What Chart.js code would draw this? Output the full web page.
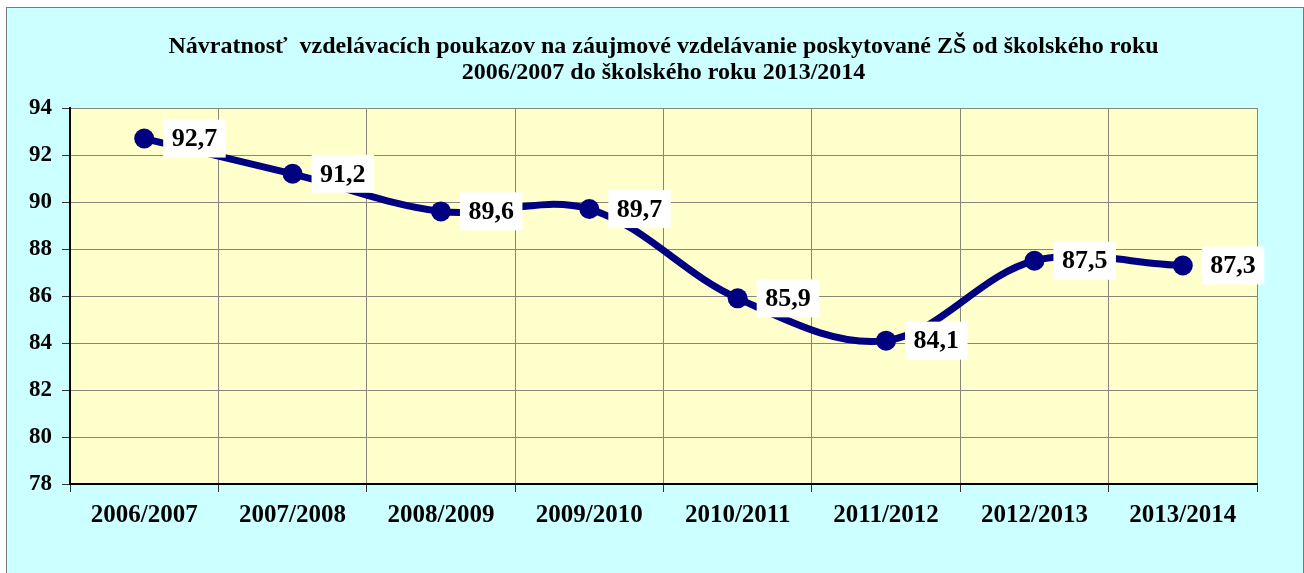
<!DOCTYPE html>
<html>
<head>
<meta charset="utf-8">
<script src="https://cdn.jsdelivr.net/npm/chart.js@4"></script>
<style>
  html, body { margin: 0; padding: 0; background: #fff; }
  #box {
    position: absolute; left: 6px; top: 7px;
    width: 1296px; height: 565px;
    border: 1px solid #7a7a7a; background: #ccffff;
  }
  canvas { display: block; }
</style>
</head>
<body>
<div id="box"><canvas id="chart" width="1296" height="565"></canvas></div>
<script>
const titleLines = [
  "Návratnosť  vzdelávacích poukazov na záujmové vzdelávanie poskytované ZŠ od školského roku",
  "2006/2007 do školského roku 2013/2014"
];
const years = ["2006/2007", "2007/2008", "2008/2009", "2009/2010", "2010/2011", "2011/2012", "2012/2013", "2013/2014"];
const returnRate = [92.7, 91.2, 89.6, 89.7, 85.9, 84.1, 87.5, 87.3];
const yMin = 78, yMax = 94, yStep = 2;

const serif = "'Liberation Serif', 'Times New Roman', serif";

const plotBg = {
  id: "plotBg",
  beforeDraw(chart) {
    const { ctx, chartArea: a } = chart;
    ctx.save();
    ctx.fillStyle = "#ffffcc";
    ctx.fillRect(a.left, a.top, a.right - a.left, a.bottom - a.top);
    ctx.restore();
  },
  afterDraw(chart) {
    const { ctx, chartArea: a } = chart;
    ctx.save();
    ctx.fillStyle = "#000";
    ctx.font = "bold 24px " + serif;
    ctx.textAlign = "center";
    ctx.textBaseline = "middle";
    const cx = (a.left + a.right) / 2;
    ctx.fillText(titleLines[0], cx, 39);
    ctx.fillText(titleLines[1], cx, 65);
    ctx.restore();
  }
};

const valueLabels = {
  id: "valueLabels",
  afterDatasetsDraw(chart) {
    const { ctx } = chart;
    const meta = chart.getDatasetMeta(0);
    ctx.save();
    ctx.font = "bold 26px " + serif;
    ctx.textBaseline = "middle";
    meta.data.forEach((pt, i) => {
      const txt = returnRate[i].toFixed(1).replace(".", ",");
      const w = ctx.measureText(txt).width + 17;
      const h = 38;
      const x = pt.x + 19, y = pt.y - h / 2;
      ctx.fillStyle = "#fff";
      ctx.fillRect(x, y, w, h);
      ctx.fillStyle = "#000";
      ctx.fillText(txt, x + 8.5, pt.y + 1);
    });
    ctx.restore();
  }
};

new Chart(document.getElementById("chart"), {
  type: "line",
  data: {
    labels: years,
    datasets: [{
      data: returnRate,
      borderColor: "#000080",
      backgroundColor: "#000080",
      borderWidth: 7,
      tension: 0.35,
      pointRadius: 10,
      pointHoverRadius: 10,
      pointBackgroundColor: "#000080",
      pointBorderWidth: 0
    }]
  },
  options: {
    responsive: false,
    animation: false,
    layout: { padding: { top: 100, right: 46, left: 0, bottom: 0 } },
    plugins: { legend: { display: false }, title: { display: false }, tooltip: { enabled: false } },
    scales: {
      x: {
        offset: true,
        grid: { offset: true, color: "#86867c", lineWidth: 1, tickLength: 8, tickColor: "#333" },
        border: { color: "#000", width: 2 },
        ticks: { color: "#000", font: { family: serif, size: 25, weight: "bold" }, padding: 9, maxRotation: 0 },
        afterFit(s) { s.height = 89; }
      },
      y: {
        min: yMin, max: yMax,
        grid: { color: "#86867c", lineWidth: 1, tickLength: 8, tickColor: "#333" },
        border: { color: "#000", width: 2 },
        ticks: { stepSize: yStep, color: "#000", font: { family: serif, size: 23, weight: "bold" }, padding: 10 },
        afterFit(s) { s.width = 63; }
      }
    }
  },
  plugins: [plotBg, valueLabels]
});
</script>
</body>
</html>
